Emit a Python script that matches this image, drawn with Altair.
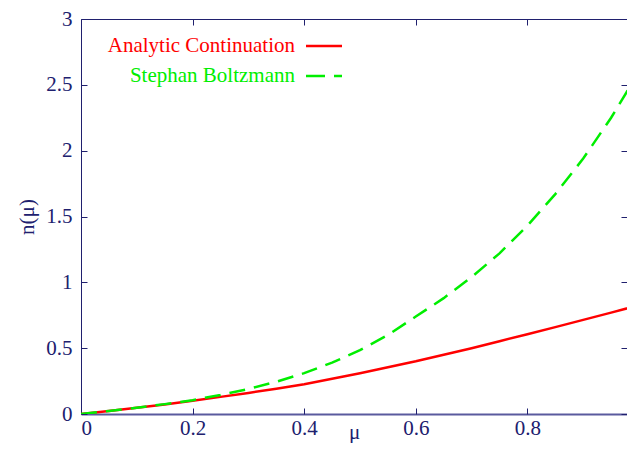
import altair as alt
import pandas as pd

# ---- data ----
mu = [0.0, 0.05, 0.10, 0.15, 0.20, 0.25, 0.30, 0.35, 0.40, 0.45, 0.50,
      0.55, 0.60, 0.65, 0.70, 0.75, 0.80, 0.85, 0.90, 0.95, 1.00]
analytic = [0.0, 0.023, 0.047, 0.072, 0.100, 0.130, 0.160, 0.192, 0.226, 0.267, 0.310,
            0.355, 0.400, 0.450, 0.500, 0.553, 0.606, 0.660, 0.715, 0.770, 0.826]
stephan = [0.0, 0.023, 0.048, 0.075, 0.105, 0.145, 0.190, 0.245, 0.310, 0.390, 0.485,
           0.600, 0.740, 0.880, 1.040, 1.220, 1.430, 1.670, 1.940, 2.250, 2.600]
series_names = ["Analytic Continuation", "Stephan Boltzmann"]
x_ticks = [0, 0.2, 0.4, 0.6, 0.8]
y_ticks = [0, 0.5, 1, 1.5, 2, 2.5, 3]

df = pd.DataFrame({"mu": mu, "analytic": analytic, "stephan": stephan})

W, H = 546, 395
NAVY = "#20206e"
RED = "#ff0000"
GREEN = "#00ee00"
FONT = "Liberation Serif"
FS = 21

xs = alt.Scale(domain=[0, 0.9785], nice=False, zero=False)
ys = alt.Scale(domain=[0, 3], nice=False)

# red curve + main labelled axes
red = alt.Chart(df).mark_line(color=RED, strokeWidth=2.5, clip=True).encode(
    x=alt.X("mu:Q", scale=xs, axis=alt.Axis(
        orient="bottom", values=x_ticks, format="~g", ticks=False, tickSize=0,
        labelPadding=3, title="μ", titlePadding=-17,
        domainColor="#5a5a9e", domainWidth=2)),
    y=alt.Y("analytic:Q", scale=ys, axis=alt.Axis(
        orient="left", values=y_ticks, format="~g", ticks=False, tickSize=0,
        labelPadding=9, title="n(μ)", titlePadding=8)),
)

# green dashed curve + inward ticks on bottom and left edges
green = alt.Chart(df).mark_line(color=GREEN, strokeWidth=2.5, strokeDash=[16, 9], clip=True).encode(
    x=alt.X("mu:Q", scale=xs, axis=alt.Axis(
        orient="top", offset=-H, values=x_ticks, labels=False, domain=False,
        tickSize=6, title=None)),
    y=alt.Y("stephan:Q", scale=ys, axis=alt.Axis(
        orient="right", offset=-W, values=y_ticks, labels=False, domain=False,
        tickSize=6, title=None)),
)

# invisible layer carrying the top border and inward ticks on top / right
frame = alt.Chart(df).mark_line(opacity=0).encode(
    x=alt.X("mu:Q", scale=xs, axis=alt.Axis(
        orient="bottom", offset=-H, values=x_ticks, labels=False, domain=True,
        tickSize=6, title=None)),
    y=alt.Y("stephan:Q", scale=ys, axis=alt.Axis(
        orient="left", offset=-W, values=y_ticks, labels=False, domain=False,
        tickSize=6, title=None)),
)

# key (gnuplot style: text then line sample)
leg1 = pd.DataFrame({"name": [series_names[0]]})
leg2 = pd.DataFrame({"name": [series_names[1]]})
t1 = alt.Chart(leg1).mark_text(align="right", baseline="middle", font=FONT,
                               fontSize=FS, color=RED).encode(
    text="name:N", x=alt.value(214), y=alt.value(27))
t2 = alt.Chart(leg2).mark_text(align="right", baseline="middle", font=FONT,
                               fontSize=FS, color=GREEN).encode(
    text="name:N", x=alt.value(214), y=alt.value(57))
r1 = alt.Chart(leg1).mark_rule(color=RED, strokeWidth=2.5).encode(
    x=alt.value(225), x2=alt.value(261), y=alt.value(27))
r2 = alt.Chart(leg2).mark_rule(color=GREEN, strokeWidth=2.5, strokeDash=[19, 9]).encode(
    x=alt.value(225), x2=alt.value(261), y=alt.value(57))

chart = alt.layer(red, green, frame, t1, t2, r1, r2).resolve_axis(
    x="independent", y="independent"
).properties(
    width=W, height=H,
    padding={"left": 73, "top": 11, "right": 0, "bottom": 29},
    autosize=alt.AutoSizeParams(type="none"),
).configure_view(stroke=None).configure_axis(
    labelFont=FONT, labelFontSize=FS, labelColor=NAVY,
    titleFont=FONT, titleFontSize=FS, titleColor=NAVY, titleFontWeight="normal",
    domainColor=NAVY, tickColor=NAVY, grid=False,
)

chart.save("out.html", embed_options={"renderer": "svg", "actions": False})
